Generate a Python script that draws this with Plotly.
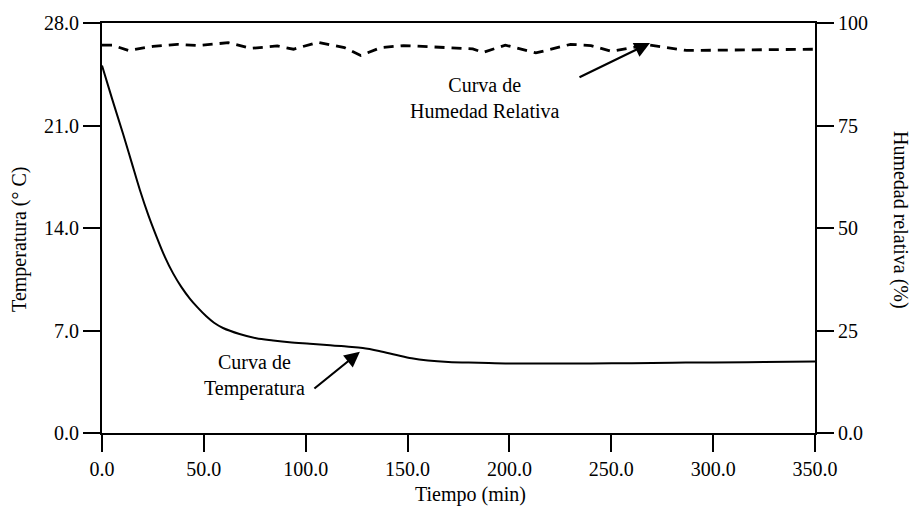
import plotly.graph_objects as go

# Temperature curve (°C) vs time (min)
temp_time = [0, 5, 10.4, 14.5, 18.6, 22.7, 26.8, 30.8, 34.9, 39, 43.1, 47, 51.2, 55, 59.4, 67.5, 75.7,
             84, 92, 102, 112, 120, 128, 136, 144, 152, 160, 170, 185, 200, 220, 240, 260, 280, 300,
             325, 350]
temp_vals = [25.1, 22.8, 20.4, 18.5, 16.6, 14.9, 13.4, 12.05, 10.9, 9.96, 9.18, 8.56, 7.97, 7.53, 7.17,
             6.76, 6.47, 6.32, 6.2, 6.1, 6.0, 5.9, 5.8, 5.6, 5.35, 5.1, 4.95, 4.85, 4.8, 4.75, 4.75,
             4.75, 4.77, 4.8, 4.82, 4.85, 4.88]

# Relative humidity (%) vs time (min)
hum_time = [0, 5, 13, 25, 37, 47, 62, 73, 86, 94, 106, 119, 127, 137, 148, 170, 182, 187, 198, 213,
            230, 240, 250, 268, 287, 350]
hum_vals = [94.6, 94.6, 93.3, 94.3, 94.8, 94.5, 95.2, 93.8, 94.4, 93.6, 95.3, 94.0, 92.1, 94.0, 94.5, 94.1,
            93.7, 92.8, 94.6, 92.7, 94.8, 94.5, 93.1, 94.7, 93.3, 93.6]

x_ticks = [0, 50, 100, 150, 200, 250, 300, 350]
y_ticks = [0, 7, 14, 21, 28]
y2_ticks = [0, 25, 50, 75, 100]
y2_labels = ["0.0", "25", "50", "75", "100"]

FONT = "'Liberation Serif', 'Times New Roman', Times, 'DejaVu Serif', serif"

fig = go.Figure()
fig.add_trace(go.Scatter(x=temp_time, y=temp_vals, mode="lines",
                         line=dict(color="black", width=2, shape="spline", smoothing=1.0),
                         yaxis="y", showlegend=False))
fig.add_trace(go.Scatter(x=hum_time, y=hum_vals, mode="lines",
                         line=dict(color="black", width=2.8, dash="10px,7px"),
                         yaxis="y2", showlegend=False))

axis_common = dict(showgrid=False, zeroline=False, showline=True, linecolor="black", linewidth=2,
                   ticks="outside", tickcolor="black", tickwidth=2, ticklen=17,
                   tickfont=dict(family=FONT, size=20, color="black"))

fig.update_layout(
    width=914, height=508,
    margin=dict(l=102, r=99, t=23, b=75),
    paper_bgcolor="white", plot_bgcolor="white",
    font=dict(family=FONT, size=20, color="black"),
    xaxis=dict(range=[0, 350], tickvals=x_ticks, tickformat=".1f", mirror=True, **axis_common),
    yaxis=dict(range=[0, 28], tickvals=y_ticks, tickformat=".1f", **axis_common),
    yaxis2=dict(range=[0, 100], tickvals=y2_ticks, ticktext=y2_labels, overlaying="y", side="right",
                **axis_common),
    annotations=[
        dict(text="Temperatura (° C)", xref="paper", yref="paper", x=-0.115, y=0.471,
             textangle=-90, showarrow=False, xanchor="center", yanchor="middle"),
        dict(text="Humedad relativa (%)", xref="paper", yref="paper", x=1.119, y=0.52,
             textangle=90, showarrow=False, xanchor="center", yanchor="middle"),
        dict(text="Tiempo (min)", xref="paper", yref="paper", x=0.5175, y=-0.151,
             showarrow=False, xanchor="center", yanchor="middle"),
        dict(text="Curva de<br>Temperatura", x=75.1, y=3.96, xref="x", yref="y",
             showarrow=False, align="center", xanchor="center", yanchor="middle"),
        dict(text="Curva de<br>Humedad Relativa", x=188, y=81.8, xref="x", yref="y2",
             showarrow=False, align="center", xanchor="center", yanchor="middle"),
        dict(text="", x=126.6, y=5.55, xref="x", yref="y", showarrow=True, ax=-47, ay=38,
             arrowhead=2, arrowsize=1.4, arrowwidth=2.2, arrowcolor="black"),
        dict(text="", x=269, y=95.1, xref="x", yref="y2", showarrow=True, ax=-72, ay=35,
             arrowhead=2, arrowsize=1.4, arrowwidth=2.2, arrowcolor="black"),
    ],
)

fig.write_html("out.html")
